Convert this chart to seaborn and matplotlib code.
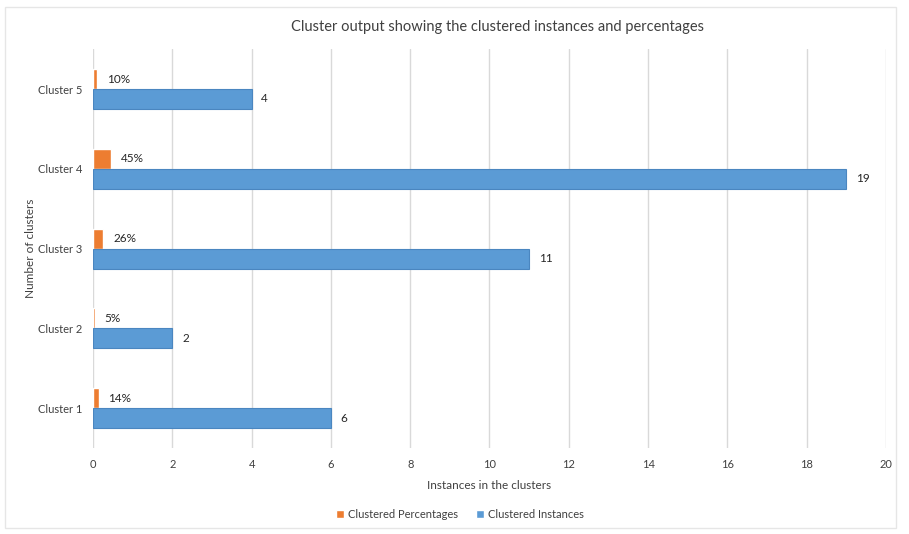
import numpy as np
import pandas as pd
import matplotlib
matplotlib.use("Agg")
import matplotlib.pyplot as plt
import seaborn as sns

# datos
clusters = ['Cluster 5', 'Cluster 4', 'Cluster 3', 'Cluster 2', 'Cluster 1']
instancias = [4, 19, 11, 2, 6]
porcentajes = [0.10, 0.45, 0.26, 0.05, 0.14]
series = ['Clustered Percentages', 'Clustered Instances']
colores = ['#ED7D31', '#5B9BD5']

df = pd.DataFrame({
    'cluster': clusters * 2,
    'valor': porcentajes + instancias,
    'serie': [series[0]] * len(clusters) + [series[1]] * len(clusters),
})

sns.set_theme(style='white')
plt.rcParams['font.family'] = ['Lato', 'DejaVu Sans']

fig = plt.figure(figsize=(9.09, 5.34), dpi=100)
ax = fig.add_axes([0.1023, 0.161, 0.8724, 0.747])

sns.barplot(data=df, y='cluster', x='valor', hue='serie', order=clusters,
            hue_order=series, palette=colores, saturation=1, orient='h',
            width=0.5, gap=0, ax=ax, legend=True)

# borde azul un poco mas oscuro para las barras azules
for p in ax.containers[1]:
    p.set_edgecolor('#4A86C0')
    p.set_linewidth(0.8)

ax.bar_label(ax.containers[0], labels=['{:.0%}'.format(v) for v in porcentajes],
             padding=7, fontsize=8.5, color='#262626')
ax.bar_label(ax.containers[1], labels=[str(v) for v in instancias],
             padding=7, fontsize=8.5, color='#262626')

ax.set_xlim(0, 20)
ax.set_xticks(np.arange(0, 21, 2))
ax.set_ylim(4.5, -0.5)
ax.grid(axis='x', color='#D9D9D9', linewidth=1)
ax.set_axisbelow(True)
for s in ax.spines.values():
    s.set_visible(False)
ax.tick_params(axis='both', length=0, labelsize=8, colors='#404040', pad=8)

ax.set_xlabel('Instances in the clusters', fontsize=8.5, color='#404040', labelpad=7)
ax.set_ylabel('')
fig.text(0.034, 0.535, 'Number of clusters', rotation=90, ha='center', va='center',
         fontsize=8.5, color='#404040')
fig.text(0.547, 0.949, 'Cluster output showing the clustered instances and percentages',
         ha='center', va='center', fontsize=10.5, color='#404040')

ax.legend_.remove()
h, l = ax.get_legend_handles_labels()
fig.legend(h, l, loc='center', bbox_to_anchor=(0.506, 0.036), ncol=2, frameon=False,
           fontsize=8, handlelength=0.7, handleheight=0.7, columnspacing=1.6,
           handletextpad=0.4, labelcolor='#404040')

# marco del area del grafico
fig.patches.append(plt.Rectangle((0.006, 0.012), 0.98, 0.975, transform=fig.transFigure,
                                 fill=False, edgecolor='#E6E6E6', linewidth=1))

fig.savefig('out.png', dpi=100)
